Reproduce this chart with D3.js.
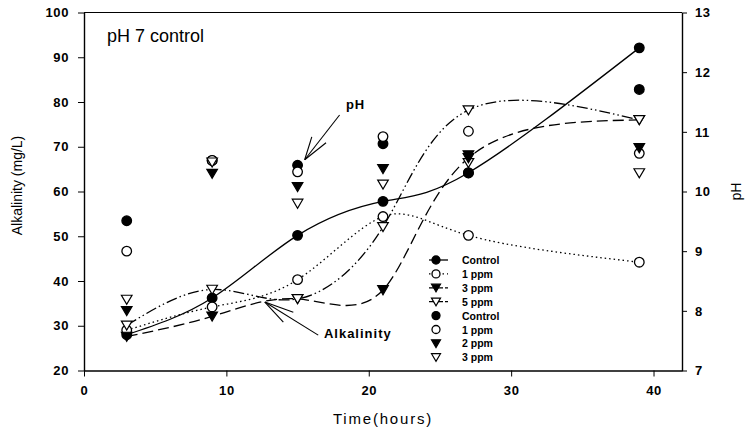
<!DOCTYPE html>
<html>
<head>
<meta charset="utf-8">
<script src="https://cdn.jsdelivr.net/npm/d3@7"></script>
<style>
  body { margin: 0; background: #fff; }
  svg { display: block; font-family: 'Liberation Sans', Arial, sans-serif; }
</style>
</head>
<body>
<div id="chart"></div>
<script>
// sampling times (hours)
const times = [3, 9, 15, 21, 27, 39];

// alkalinity (mg/L), drawn as lines
const alkControl = [28, 36.2, 50.2, 57.8, 64.2, 92.1];
const alk1ppm = [29, 34.2, 40.3, 54.4, 50.2, 44.2];
const alk3ppm = [27.6, 32.1, 36, 38, 67.5, 76];
const alk5ppm = [30.1, 38.1, 36, 52.1, 78.2, 76];

// pH, drawn as markers only (right axis)
const phControl = [9.51, 10.52, 10.44, 10.8, 10.31, 11.71];
const ph1ppm = [9.0, 10.52, 10.33, 10.92, 11.01, 10.64];
const ph2ppm = [8.0, 10.3, 10.08, 10.38, 10.61, 10.73];
const ph3ppm = [8.19, 10.49, 9.8, 10.12, 10.48, 10.31];

const xTicks = [0, 10, 20, 30, 40];
const yTicks = [20, 30, 40, 50, 60, 70, 80, 90, 100];
const phTicks = [7, 8, 9, 10, 11, 12, 13];

const width = 749, height = 436;
const margin = { top: 12.5, right: 67, bottom: 65.5, left: 84 };

const svg = d3.select('#chart').append('svg')
  .attr('width', width)
  .attr('height', height);

const x = d3.scaleLinear().domain([0, 42]).range([margin.left, width - margin.right]);
const y = d3.scaleLinear().domain([20, 100]).range([height - margin.bottom, margin.top]);
const yPh = d3.scaleLinear().domain([7, 13]).range([height - margin.bottom, margin.top]);

// marker shapes
function tri(cx, cy, s) {
  return `M${cx - s},${cy - s * 0.8}L${cx + s},${cy - s * 0.8}L${cx},${cy + s * 0.9}Z`;
}
function marker(sel, kind, cx, cy, r) {
  if (kind === 'fc' || kind === 'oc') {
    sel.append('circle')
      .attr('cx', cx).attr('cy', cy).attr('r', r)
      .attr('fill', kind === 'fc' ? '#000' : '#fff')
      .attr('stroke', '#000').attr('stroke-width', 1.3);
  } else {
    sel.append('path')
      .attr('d', tri(cx, cy, r + 0.5))
      .attr('fill', kind === 'ft' ? '#000' : '#fff')
      .attr('stroke', '#000').attr('stroke-width', 1.2);
  }
}

const lineSeries = [
  { name: 'Control', values: alkControl, kind: 'fc', dash: null },
  { name: '1 ppm', values: alk1ppm, kind: 'oc', dash: '1.5,3' },
  { name: '3 ppm', values: alk3ppm, kind: 'ft', dash: '11,5' },
  { name: '5 ppm', values: alk5ppm, kind: 'ot', dash: '11,3,1.5,3,1.5,3' }
];
const phSeries = [
  { name: 'Control', values: phControl, kind: 'fc' },
  { name: '1 ppm', values: ph1ppm, kind: 'oc' },
  { name: '2 ppm', values: ph2ppm, kind: 'ft' },
  { name: '3 ppm', values: ph3ppm, kind: 'ot' }
];

// axes
const axisFont = g => g.selectAll('text')
  .style('font-size', '13px')
  .style('font-weight', 'bold')
  .style('letter-spacing', '0.6px')
  .attr('fill', '#000');

svg.append('g')
  .attr('transform', `translate(0,${height - margin.bottom})`)
  .call(d3.axisBottom(x).tickValues(xTicks).tickSize(6).tickPadding(9).tickSizeOuter(0))
  .call(axisFont);

svg.append('g')
  .attr('transform', `translate(${margin.left},0)`)
  .call(d3.axisLeft(y).tickValues(yTicks).tickSize(6).tickPadding(9).tickSizeOuter(0))
  .call(axisFont);

svg.append('g')
  .attr('transform', `translate(${width - margin.right},0)`)
  .call(d3.axisRight(yPh).tickValues(phTicks).tickFormat(d3.format('d'))
    .tickSize(5).tickPadding(8).tickSizeOuter(0))
  .call(axisFont);

svg.selectAll('.domain').attr('stroke-width', 1.4);

// top frame line
svg.append('line')
  .attr('x1', x(0)).attr('x2', x(42))
  .attr('y1', y(100)).attr('y2', y(100))
  .attr('stroke', '#000').attr('stroke-width', 1.2);

// alkalinity lines
const line = d3.line()
  .x((d, i) => x(times[i]))
  .y(d => y(d))
  .curve(d3.curveNatural);

lineSeries.forEach(s => {
  svg.append('path')
    .attr('d', line(s.values))
    .attr('fill', 'none')
    .attr('stroke', '#000')
    .attr('stroke-width', 1.3)
    .attr('stroke-dasharray', s.dash);
});

// pH markers
phSeries.forEach(s => {
  const g = svg.append('g');
  s.values.forEach((v, i) => marker(g, s.kind, x(times[i]), yPh(v), 4.8));
});

// alkalinity markers
lineSeries.forEach(s => {
  const g = svg.append('g');
  s.values.forEach((v, i) => marker(g, s.kind, x(times[i]), y(v), 4.8));
});

// title and axis labels
svg.append('text')
  .attr('x', 107).attr('y', 42)
  .style('font-size', '18px')
  .text('pH 7 control');

svg.append('text')
  .attr('transform', `translate(22,${(y(20) + y(100)) / 2 - 6}) rotate(-90)`)
  .attr('text-anchor', 'middle')
  .style('font-size', '14px')
  .text('Alkalinity (mg/L)');

svg.append('text')
  .attr('transform', `translate(741,${(y(20) + y(100)) / 2}) rotate(-90)`)
  .attr('text-anchor', 'middle')
  .style('font-size', '14px')
  .text('pH');

svg.append('text')
  .attr('x', (x(0) + x(42)) / 2).attr('y', 424)
  .attr('text-anchor', 'middle')
  .style('font-size', '15px')
  .style('letter-spacing', '1.8px')
  .text('Time(hours)');

// annotations with open arrows
function arrow(from, tip, barbs) {
  const g = svg.append('g').attr('stroke', '#000').attr('stroke-width', 1.1);
  g.append('line')
    .attr('x1', x(from[0])).attr('y1', y(from[1]))
    .attr('x2', x(tip[0])).attr('y2', y(tip[1]));
  barbs.forEach(b => g.append('line')
    .attr('x1', x(tip[0])).attr('y1', y(tip[1]))
    .attr('x2', x(b[0])).attr('y2', y(b[1])));
}

svg.append('text')
  .attr('x', x(18.4)).attr('y', y(78.5))
  .style('font-size', '13px')
  .style('font-weight', 'bold')
  .style('letter-spacing', '0.8px')
  .text('pH');
arrow([17.95, 77.1], [15.5, 67.1], [[16.0, 72.2], [17.0, 70.9]]);

svg.append('text')
  .attr('x', x(16.85)).attr('y', y(27.2))
  .style('font-size', '13px')
  .style('font-weight', 'bold')
  .style('letter-spacing', '1px')
  .text('Alkalinity');
arrow([16.45, 27.9], [12.7, 35.3], [[14.7, 33.0], [14.0, 30.8]]);

// legend
const legend = svg.append('g').attr('transform', 'translate(436,260)');
const rowH = 13.9;

lineSeries.forEach((s, i) => {
  const row = legend.append('g').attr('transform', `translate(0,${i * rowH})`);
  row.append('line')
    .attr('x1', -7).attr('x2', 12)
    .attr('stroke', '#000').attr('stroke-width', 1.3)
    .attr('stroke-dasharray', s.dash ? (s.kind === 'oc' ? '1.5,3' : '6,2') : null);
  marker(row, s.kind, 0, 0, 4);
  row.append('text').attr('x', 26).attr('y', 4)
    .style('font-size', '10.5px').style('font-weight', 'bold')
    .text(s.name);
});

phSeries.forEach((s, i) => {
  const row = legend.append('g').attr('transform', `translate(0,${(i + 4) * rowH})`);
  marker(row, s.kind, 0, 0, 4);
  row.append('text').attr('x', 26).attr('y', 4)
    .style('font-size', '10.5px').style('font-weight', 'bold')
    .text(s.name);
});
</script>
</body>
</html>
